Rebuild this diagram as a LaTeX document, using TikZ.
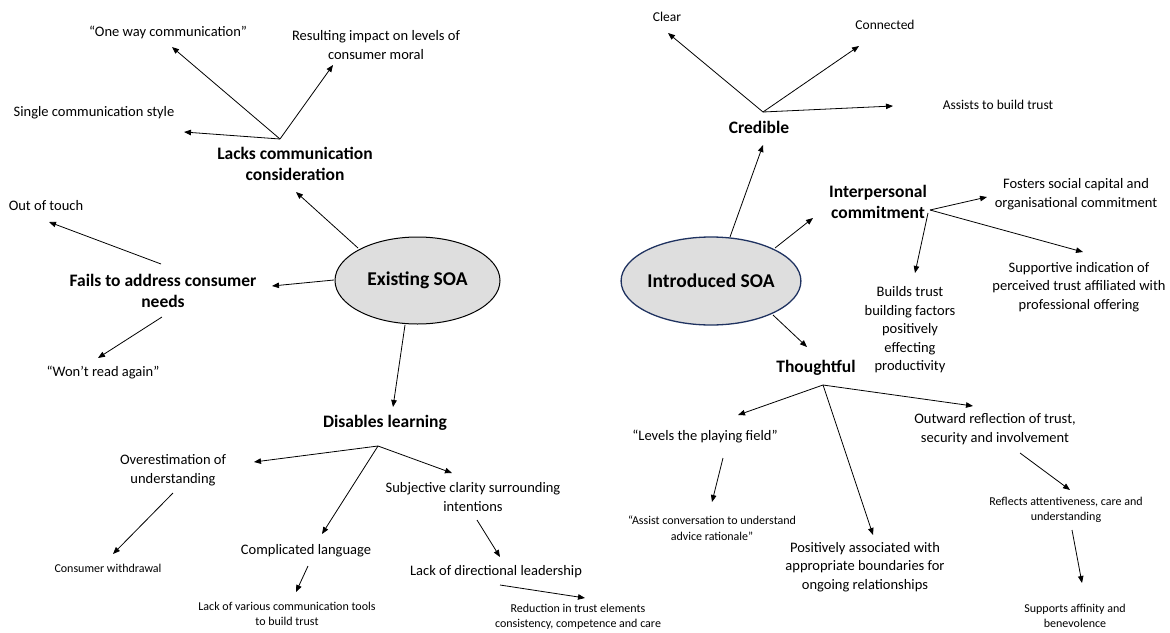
\documentclass[tikz,border=0pt]{standalone}
\usepackage{fontspec}
\setmainfont{Carlito}
\usetikzlibrary{arrows.meta,shapes.geometric}
\definecolor{navy}{RGB}{31,50,96}
\definecolor{soafill}{RGB}{222,222,222}
\begin{document}
\begin{tikzpicture}[x=1pt,y=-1pt,
  arr/.style={-{Triangle[length=7pt,width=5.5pt]}, line width=0.8pt, black},
  hd/.style={font=\fontsize{17.5}{21.5}\selectfont\bfseries, align=center, inner sep=0pt},
  tx/.style={font=\fontsize{14.5}{18.5}\selectfont, align=center, inner sep=0pt},
  tsm/.style={font=\fontsize{13.5}{16}\selectfont, align=center, inner sep=0pt},
  sm/.style={font=\fontsize{12}{15.5}\selectfont, align=center, inner sep=0pt},
  soa/.style={ellipse, fill=soafill, font=\fontsize{19.5}{22}\selectfont\bfseries, inner sep=0pt}
]
\useasboundingbox (0,0) rectangle (1170,632);

% ---------- left: Existing SOA ----------
\node[soa, draw=black, line width=1pt, minimum width=165pt, minimum height=87pt] (exist) at (417.5,280.5) {Existing SOA};
\node[tx] (oneway) at (168,32) {“One way communication”};
\node[tx] (result) at (376,45) {Resulting impact on levels of\\consumer moral};
\node[tx] (single) at (94,113) {Single communication style};
\node[hd] (lacks) at (295,164) {Lacks communication\\consideration};
\node[tx] (out) at (46,206) {Out of touch};
\node[hd] (fails) at (163,291) {Fails to address consumer\\needs};
\node[tx] (wont) at (103,373) {“Won’t read again”};
\node[hd] (disables) at (385,423) {Disables learning};
\node[tx] (over) at (173,470) {Overestimation of\\understanding};
\node[sm] (consumer) at (108,568) {Consumer withdrawal};
\node[tx] (compl) at (306,551) {Complicated language};
\node[sm] (lackvar) at (287,614) {Lack of various communication tools\\to build trust};
\node[tx] (subj) at (473,497) {Subjective clarity surrounding\\intentions};
\node[tx] (lackdir) at (496,572) {Lack of directional leadership};
\node[sm] (reduct) at (578,617) {Reduction in trust elements\\consistency, competence and care};

% ---------- right: Introduced SOA ----------
\node[soa, draw=navy, line width=1.3pt, minimum width=174pt, minimum height=88pt] (intro) at (711,281) {Introduced SOA};
\node[tsm] (clear) at (667,17) {Clear};
\node[tsm] (connected) at (885,25) {Connected};
\node[tsm] (assists) at (998,105) {Assists to build trust};
\node[hd] (cred) at (759,127) {Credible};
\node[hd] (interp) at (878,202) {Interpersonal\\commitment};
\node[tx] (fosters) at (1076,194) {Fosters social capital and\\organisational commitment};
\node[tx] (support) at (1079,287) {Supportive indication of\\perceived trust affiliated with\\professional offering};
\node[tx] (builds) at (910,330) {Builds trust\\building factors\\positively\\effecting\\productivity};
\node[hd] (thought) at (816,368) {Thoughtful};
\node[tx] (levels) at (705,437) {“Levels the playing field”};
\node[sm] (assist) at (712,528) {“Assist conversation to understand\\advice rationale”};
\node[tx] (posit) at (865,567) {Positively associated with\\appropriate boundaries for\\ongoing relationships};
\node[tx] (outward) at (995,429) {Outward reflection of trust,\\security and involvement};
\node[sm] (reflects) at (1066,510) {Reflects attentiveness, care and\\understanding};
\node[sm] (supports) at (1075,616) {Supports affinity and\\benevolence};

% ---------- connector end points ----------
\coordinate (lacks-hub) at (280,139);
\coordinate (oneway-tip) at (172,47);
\coordinate (result-tip) at (333,65);
\coordinate (single-tip) at (184,132);
\coordinate (exist-a) at (358,248);
\coordinate (lacks-tip) at (296,192);
\coordinate (exist-b) at (334,280);
\coordinate (fails-tip) at (272,286);
\coordinate (fails-a) at (161,264);
\coordinate (out-tip) at (49,222);
\coordinate (fails-b) at (162,317);
\coordinate (wont-tip) at (98,358);
\coordinate (exist-c) at (405,325);
\coordinate (disables-tip) at (393,407);
\coordinate (dis-hub) at (378,446);
\coordinate (over-tip) at (254,462);
\coordinate (compl-tip) at (322,534);
\coordinate (subj-tip) at (452,473);
\coordinate (over-a) at (173,493);
\coordinate (consumer-tip) at (113,554);
\coordinate (compl-a) at (308,566);
\coordinate (lackvar-tip) at (296,592);
\coordinate (subj-a) at (477,520);
\coordinate (lackdir-tip) at (500,557);
\coordinate (lackdir-a) at (500,585);
\coordinate (reduct-tip) at (585,598);

\coordinate (cred-hub) at (763,112);
\coordinate (clear-tip) at (668,33);
\coordinate (connected-tip) at (859,46);
\coordinate (assists-tip) at (893,106);
\coordinate (intro-a) at (730,237);
\coordinate (cred-tip) at (763,145);
\coordinate (intro-b) at (775,248);
\coordinate (interp-tip) at (813,218);
\coordinate (intro-c) at (773,315);
\coordinate (thought-tip) at (807,347);
\coordinate (interp-hub) at (930,210);
\coordinate (fosters-tip) at (987,197);
\coordinate (support-tip) at (1083,252);
\coordinate (interp-hub2) at (928,213);
\coordinate (builds-tip) at (915,273);
\coordinate (th-hub) at (823,385);
\coordinate (levels-tip) at (738,415);
\coordinate (posit-tip) at (873,535);
\coordinate (outward-tip) at (973,406);
\coordinate (levels-a) at (723,458);
\coordinate (assist-tip) at (712,502);
\coordinate (outward-a) at (1020,453);
\coordinate (reflects-tip) at (1070,490);
\coordinate (reflects-a) at (1072,530);
\coordinate (supports-tip) at (1082,583);

% ---------- connectors ----------
\draw[arr] (lacks-hub) -- (oneway-tip);
\draw[arr] (lacks-hub) -- (result-tip);
\draw[arr] (lacks-hub) -- (single-tip);
\draw[arr] (exist-a) -- (lacks-tip);
\draw[arr] (exist-b) -- (fails-tip);
\draw[arr] (fails-a) -- (out-tip);
\draw[arr] (fails-b) -- (wont-tip);
\draw[arr] (exist-c) -- (disables-tip);
\draw[arr] (dis-hub) -- (over-tip);
\draw[arr] (dis-hub) -- (compl-tip);
\draw[arr] (dis-hub) -- (subj-tip);
\draw[arr] (over-a) -- (consumer-tip);
\draw[arr] (compl-a) -- (lackvar-tip);
\draw[arr] (subj-a) -- (lackdir-tip);
\draw[arr] (lackdir-a) -- (reduct-tip);

\draw[arr] (cred-hub) -- (clear-tip);
\draw[arr] (cred-hub) -- (connected-tip);
\draw[arr] (cred-hub) -- (assists-tip);
\draw[arr] (intro-a) -- (cred-tip);
\draw[arr] (intro-b) -- (interp-tip);
\draw[arr] (intro-c) -- (thought-tip);
\draw[arr] (interp-hub) -- (fosters-tip);
\draw[arr] (interp-hub) -- (support-tip);
\draw[arr] (interp-hub2) -- (builds-tip);
\draw[arr] (th-hub) -- (levels-tip);
\draw[arr] (th-hub) -- (posit-tip);
\draw[arr] (th-hub) -- (outward-tip);
\draw[arr] (levels-a) -- (assist-tip);
\draw[arr] (outward-a) -- (reflects-tip);
\draw[arr] (reflects-a) -- (supports-tip);
\end{tikzpicture}
\end{document}
